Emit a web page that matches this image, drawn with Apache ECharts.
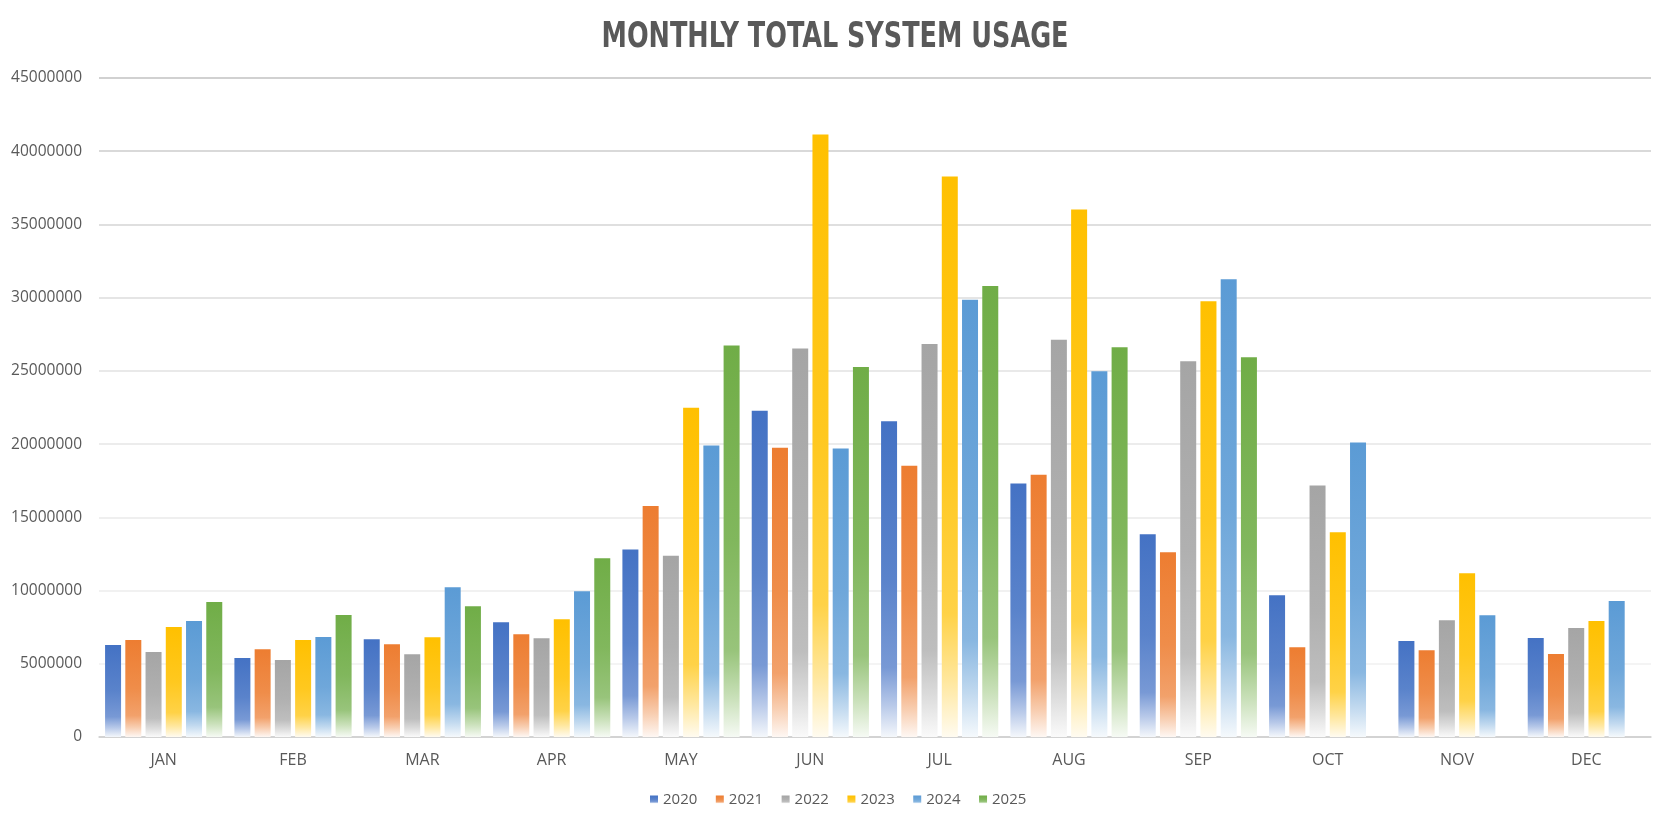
<!DOCTYPE html>
<html>
<head>
<meta charset="utf-8">
<script src="https://cdn.jsdelivr.net/npm/echarts@6/dist/echarts.min.js"></script>
<style>
html,body{margin:0;padding:0;background:#fff;}
#chart{width:1666px;height:825px;}
</style>
</head>
<body>
<div id="chart"></div>
<script>
const categories = ['JAN','FEB','MAR','APR','MAY','JUN','JUL','AUG','SEP','OCT','NOV','DEC'];
const years = ['2020','2021','2022','2023','2024','2025'];
const yTicks = [0,5000000,10000000,15000000,20000000,25000000,30000000,35000000,40000000,45000000];
const s2020 = [6280000,5390000,6670000,7840000,12800000,22280000,21560000,17310000,13840000,9680000,6550000,6760000];
const s2021 = [6620000,6000000,6330000,7020000,15780000,19750000,18530000,17910000,12610000,6130000,5930000,5660000];
const s2022 = [5800000,5250000,5650000,6740000,12370000,26530000,26830000,27120000,25660000,17180000,7980000,7440000];
const s2023 = [7510000,6620000,6810000,8040000,22480000,41150000,38270000,36020000,29760000,13980000,11180000,7920000];
const s2024 = [7920000,6830000,10230000,9950000,19900000,19700000,29860000,24980000,31260000,20110000,8320000,9290000];
const s2025 = [9220000,8330000,8930000,12210000,26730000,25260000,30790000,26620000,25930000,null,null,null];
const seriesValues = [s2020,s2021,s2022,s2023,s2024,s2025];
const colors = ['#4472C4','#ED7D31','#A5A5A5','#FFC000','#5B9BD5','#70AD47'];

function mix(hex, t){
  const r=parseInt(hex.slice(1,3),16), g=parseInt(hex.slice(3,5),16), b=parseInt(hex.slice(5,7),16);
  const f=v=>Math.round(255+(v-255)*t);
  return 'rgb('+f(r)+','+f(g)+','+f(b)+')';
}
function grad(hex){
  return new echarts.graphic.LinearGradient(0,0,0,1,[
    {offset:0,color:hex},
    {offset:0.5,color:mix(hex,0.88)},
    {offset:0.78,color:mix(hex,0.72)},
    {offset:0.9,color:mix(hex,0.38)},
    {offset:1,color:mix(hex,0.06)}
  ]);
}

const titleText = 'MONTHLY TOTAL SYSTEM USAGE';
const titleFont = 'bold 35px "DejaVu Sans Condensed", "Liberation Sans Narrow", sans-serif';
const cv = document.createElement('canvas').getContext('2d');
cv.font = titleFont;
const tw = cv.measureText(titleText).width;
const sx = 467 / tw;

const chart = echarts.init(document.getElementById('chart'), null, {renderer:'canvas'});
const gridColors = ['#D0D0D0','#F0F0F0','#EDEDED','#EAEAEA','#E6E6E6','#E2E2E2','#DCDCDC','#D5D5D5','#CDCDCD','#C2C2C2'];

chart.setOption({
  animation:false,
  backgroundColor:'#fff',
  graphic:[{
    type:'text',
    x:835, y:38,
    scaleX:sx, scaleY:1,
    style:{
      text:titleText,
      font:titleFont,
      fill:'#595959',
      align:'center',
      verticalAlign:'middle'
    }
  }],
  legend:{
    data:years,
    top:787,
    left:645,
    itemWidth:8,
    itemHeight:8,
    itemGap:18.5,
    icon:'rect',
    textStyle:{color:'#595959',fontSize:15,fontFamily:'Open Sans'}
  },
  grid:{left:99,right:15,top:78,bottom:88,containLabel:false},
  xAxis:{
    type:'category',
    data:categories,
    axisLine:{lineStyle:{color:'#D0D0D0',width:1.5}},
    axisTick:{show:false},
    axisLabel:{color:'#595959',fontSize:16,fontFamily:'Open Sans',margin:15}
  },
  yAxis:{
    type:'value',
    min:yTicks[0],
    max:yTicks[yTicks.length-1],
    interval:yTicks[1]-yTicks[0],
    axisLine:{show:false},
    axisTick:{show:false},
    axisLabel:{color:'#595959',fontSize:15.5,fontFamily:'Open Sans',margin:17,formatter:v=>String(v)},
    splitLine:{lineStyle:{color:gridColors,width:1.5}}
  },
  series: years.map((y,i)=>({
    name:y,
    type:'bar',
    data:seriesValues[i],
    barWidth:16,
    barGap:'26.5%',
    itemStyle:{color:grad(colors[i])}
  }))
});
</script>
</body>
</html>
